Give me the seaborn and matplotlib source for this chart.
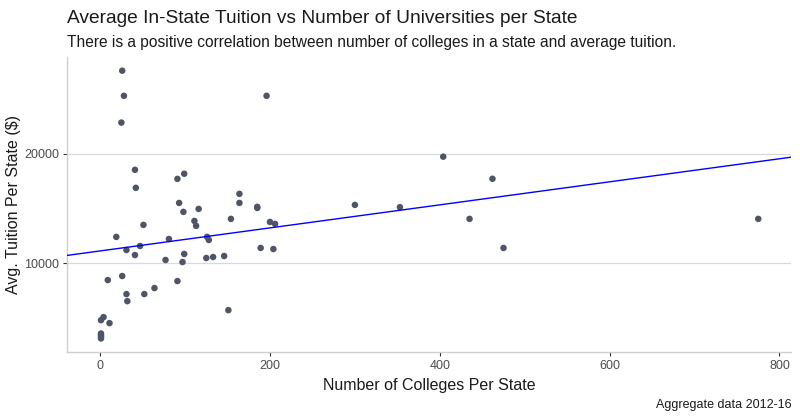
import matplotlib
matplotlib.use("Agg")
import matplotlib.pyplot as plt
import seaborn as sns
import pandas as pd

colleges = [26, 28, 25, 196, 41, 42, 91, 99, 93, 98, 116, 111, 113, 164, 164,
            185, 185, 154, 200, 206, 51, 19, 81, 126, 128, 47, 31, 41, 99, 77,
            97, 125, 133, 146, 189, 204, 9, 26, 91, 31, 52, 64, 32, 151,
            1, 4, 11, 1, 1, 1, 1,
            300, 353, 404, 462, 435, 475, 775]
tuition = [27600, 25300, 22850, 25300, 18530, 16880, 17700, 18170, 15500, 14680, 14950, 13850, 13400, 16330, 15500,
           15140, 15040, 14040, 13760, 13580, 13490, 12390, 12200, 12390, 12110, 11560, 11190, 10730, 10830, 10280,
           10090, 10460, 10550, 10640, 11380, 11280, 8440, 8810, 8350, 7160, 7160, 7710, 6510, 5690,
           4770, 5050, 4500, 3550, 3400, 3250, 3100,
           15320, 15110, 19730, 17710, 14040, 11380, 14040]

df = pd.DataFrame({"colleges": colleges, "tuition": tuition})

sns.set_theme(style="white")
plt.rcParams["font.family"] = ["Liberation Sans", "DejaVu Sans"]

fig = plt.figure(figsize=(8, 4.2), dpi=100)
ax = fig.add_axes([0.084, 0.162, 0.905, 0.702])

ax.set_xlim(-38.8, 813.8)
ax.set_ylim(1863, 28841)

sns.scatterplot(data=df, x="colleges", y="tuition", ax=ax, color="#4f5468",
                s=22, edgecolor="none", zorder=3)
sns.regplot(data=df, x="colleges", y="tuition", ax=ax, scatter=False, ci=None,
            truncate=False, color="blue", line_kws={"lw": 1.0, "zorder": 4})
ax.set_xlim(-38.8, 813.8)

ax.set_xticks([0, 200, 400, 600, 800])
ax.set_yticks([10000, 20000])
ax.grid(axis="y", color="#d9d9d9", lw=0.9)
ax.grid(axis="x", visible=False)
for side in ["top", "right"]:
    ax.spines[side].set_visible(False)
for side in ["left", "bottom"]:
    ax.spines[side].set_color("#cfcfcf")
    ax.spines[side].set_linewidth(1.0)
ax.tick_params(axis="both", which="major", length=3, width=0.8, color="#333333",
               labelsize=9, labelcolor="#4d4d4d", left=True, bottom=True, pad=3)

ax.set_xlabel("Number of Colleges Per State", fontsize=11.5, color="#1a1a1a", labelpad=4)
ax.set_ylabel("Avg. Tuition Per State ($)", fontsize=11.5, color="#1a1a1a", labelpad=2)

fig.text(0.084, 0.955, "Average In-State Tuition vs Number of Universities per State",
         fontsize=13.8, color="#1a1a1a", ha="left", va="center")
fig.text(0.084, 0.898, "There is a positive correlation between number of colleges in a state and average tuition.",
         fontsize=11.2, color="#1a1a1a", ha="left", va="center")
fig.text(0.989, 0.035, "Aggregate data 2012-16", fontsize=9, color="#1a1a1a",
         ha="right", va="center")

fig.savefig("out.png", dpi=100)
